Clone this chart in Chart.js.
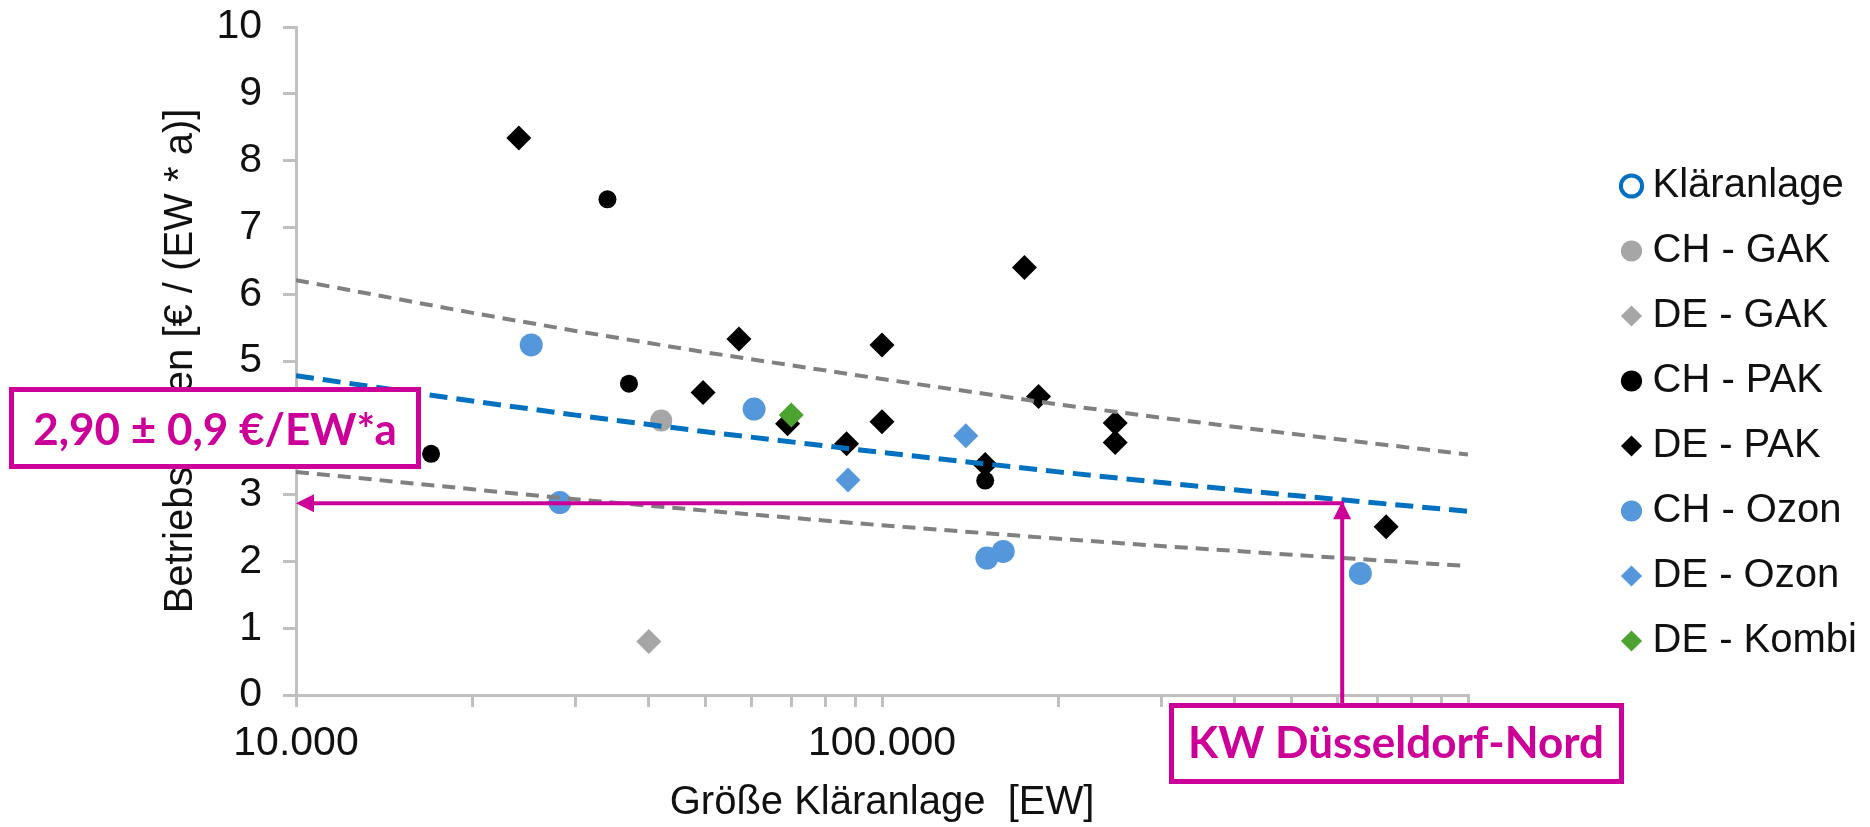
<!DOCTYPE html>
<html lang="de">
<head>
<meta charset="utf-8">
<title>Betriebskosten Kläranlagen</title>
<script src="https://cdn.jsdelivr.net/npm/chart.js@4.4.1/dist/chart.umd.min.js"></script>
<style>
  html, body { margin: 0; padding: 0; background: #fff; }
  #costChart { display: block; }
</style>
</head>
<body>
<canvas id="costChart" width="1870" height="827"></canvas>
<script>
'use strict';

// Gruppen (Legende)
const SERIES_NAMES = ['Kläranlage', 'CH - GAK', 'DE - GAK', 'CH - PAK', 'DE - PAK', 'CH - Ozon', 'DE - Ozon', 'DE - Kombi'];

// Größe [EW] und Betriebskosten [€/(EW*a)] je Gruppe
const KLAERANLAGE_EW = [];
const KLAERANLAGE_COST = [];
const CH_GAK_EW = [42000];
const CH_GAK_COST = [4.11];
const DE_GAK_EW = [40000];
const DE_GAK_COST = [0.80];
const CH_PAK_EW = [17000, 34000, 37000, 150000];
const CH_PAK_COST = [3.61, 7.42, 4.66, 3.21];
const DE_PAK_EW = [24000, 49500, 57000, 69000, 87000, 100000, 100000, 150000, 175000, 185000, 250000, 250000, 725000];
const DE_PAK_COST = [8.34, 4.53, 5.33, 4.06, 3.76, 5.24, 4.09, 3.45, 6.40, 4.47, 4.07, 3.78, 2.52];
const CH_OZON_EW = [25200, 28200, 60500, 151000, 161000, 655000];
const CH_OZON_COST = [5.24, 2.88, 4.28, 2.05, 2.15, 1.82];
const DE_OZON_EW = [87500, 139000];
const DE_OZON_COST = [3.22, 3.88];
const DE_KOMBI_EW = [70000];
const DE_KOMBI_COST = [4.19];

// Trendlinie und Streuband
const TREND_EW = [10000, 20000, 30000, 50000, 100000, 200000, 300000, 500000, 1000000];
const TREND_MID = [4.78, 4.40, 4.19, 3.94, 3.63, 3.34, 3.18, 2.99, 2.75];
const TREND_UPPER = [6.21, 5.72, 5.45, 5.13, 4.73, 4.35, 4.15, 3.91, 3.60];
const TREND_LOWER = [3.34, 3.08, 2.93, 2.76, 2.54, 2.34, 2.23, 2.10, 1.93];

// Achsen
const X_TICKS = [10000, 20000, 30000, 40000, 50000, 60000, 70000, 80000, 90000,
  100000, 200000, 300000, 400000, 500000, 600000, 700000, 800000, 900000, 1000000];
const X_TICK_VALUES = [10000, 100000, 1000000];
const X_TICK_LABELS = ['10.000', '100.000', '1.000.000'];
const X_TITLE = 'Größe Kläranlage  [EW]';
const Y_TITLE = 'Betriebskosten [€ / (EW * a)]';

// Markierung KW Düsseldorf-Nord
const KW_NAME = 'KW Düsseldorf-Nord';
const KW_EW = 610000;
const KW_COST = 2.90;
const KW_TEXT = '2,90 ± 0,9 €/EW*a';

// Layout
const PLOT_LEFT = 296;
const PLOT_TOP = 27;
const PLOT_RIGHT = 1468;
const PLOT_BOTTOM = 695;
const PAD_RIGHT = 3;
const MAGENTA = '#CC0099';
const AXIS_GRAY = '#C0C0C0';
const TEXT_COLOR = '#111';
const COST_BOX = {x: 11.5, y: 389.5, w: 407, h: 77, cx: 215, base: 445};
const KW_BOX = {x: 1171.5, y: 705.5, w: 450, h: 76, cx: 1396, base: 758};

Chart.defaults.font.family = '"Liberation Sans", Arial, sans-serif';

function points(xs, ys) {
  return xs.map(function(x, i) { return {x: x, y: ys[i]}; });
}

function markerSet(label, xs, ys, style, color, radius, order) {
  return {
    label: label,
    data: points(xs, ys),
    pointStyle: style,
    backgroundColor: color,
    borderColor: color,
    borderWidth: 0,
    pointRadius: radius,
    order: order
  };
}

function trendSet(label, ys, color, width, dash) {
  return {
    label: label,
    data: points(TREND_EW, ys),
    showLine: true,
    pointRadius: 0,
    borderColor: color,
    backgroundColor: color,
    borderWidth: width,
    borderDash: dash,
    fill: false,
    order: 0
  };
}

function arrowHead(ctx, x, y, dx, dy) {
  // Spitze bei (x, y), Richtung (dx, dy)
  const len = 18, half = 9;
  ctx.beginPath();
  ctx.moveTo(x, y);
  ctx.lineTo(x - dx * len - dy * half, y - dy * len - dx * half);
  ctx.lineTo(x - dx * len + dy * half, y - dy * len + dx * half);
  ctx.closePath();
  ctx.fill();
}

function textBox(ctx, box, text) {
  ctx.fillStyle = '#fff';
  ctx.fillRect(box.x, box.y, box.w, box.h);
  ctx.lineWidth = 5;
  ctx.strokeStyle = MAGENTA;
  ctx.strokeRect(box.x, box.y, box.w, box.h);
  ctx.fillStyle = MAGENTA;
  ctx.font = 'bold 44px Lato, "Open Sans", sans-serif';
  ctx.textAlign = 'center';
  ctx.textBaseline = 'alphabetic';
  ctx.fillText(text, box.cx, box.base);
}

const kwAnnotation = {
  id: 'kwAnnotation',
  afterDraw: function(chart) {
    const ctx = chart.ctx;
    const area = chart.chartArea;
    const px = chart.scales.x.getPixelForValue(KW_EW);
    const py = chart.scales.y.getPixelForValue(KW_COST);
    ctx.save();
    ctx.strokeStyle = MAGENTA;
    ctx.fillStyle = MAGENTA;
    ctx.lineWidth = 4;
    // senkrecht vom Kasten zur Trendlinie
    ctx.beginPath();
    ctx.moveTo(px, KW_BOX.y);
    ctx.lineTo(px, py + 17);
    ctx.stroke();
    arrowHead(ctx, px, py, 0, -1);
    // waagerecht zur y-Achse
    ctx.beginPath();
    ctx.moveTo(px + 2, py + 2);
    ctx.lineTo(area.left + 17, py + 2);
    ctx.stroke();
    arrowHead(ctx, area.left, py + 2, -1, 0);

    textBox(ctx, COST_BOX, KW_TEXT);
    textBox(ctx, KW_BOX, KW_NAME);
    ctx.restore();
  }
};

const context = document.querySelector('#costChart').getContext('2d');
new Chart(context, {
  type: 'scatter',
  data: {
    datasets: [
      {
        label: SERIES_NAMES[0],
        data: points(KLAERANLAGE_EW, KLAERANLAGE_COST),
        pointStyle: 'circle',
        backgroundColor: '#fff',
        borderColor: '#0070C0',
        borderWidth: 4,
        pointRadius: 10,
        order: 2
      },
      markerSet(SERIES_NAMES[1], CH_GAK_EW, CH_GAK_COST, 'circle', '#A6A6A6', 11, 2),
      markerSet(SERIES_NAMES[2], DE_GAK_EW, DE_GAK_COST, 'rectRot', '#A6A6A6', 12.5, 2),
      markerSet(SERIES_NAMES[3], CH_PAK_EW, CH_PAK_COST, 'circle', '#000', 9, 2),
      markerSet(SERIES_NAMES[4], DE_PAK_EW, DE_PAK_COST, 'rectRot', '#000', 12.5, 2),
      markerSet(SERIES_NAMES[5], CH_OZON_EW, CH_OZON_COST, 'circle', '#5597DB', 11.5, 2),
      markerSet(SERIES_NAMES[6], DE_OZON_EW, DE_OZON_COST, 'rectRot', '#5597DB', 12.5, 2),
      markerSet(SERIES_NAMES[7], DE_KOMBI_EW, DE_KOMBI_COST, 'rectRot', '#4DA32F', 12.5, 1),
      trendSet('Trend', TREND_MID, '#0070C0', 5, [18, 9]),
      trendSet('oben', TREND_UPPER, '#808080', 4, [13, 8]),
      trendSet('unten', TREND_LOWER, '#808080', 4, [13, 8])
    ]
  },
  options: {
    responsive: false,
    animation: false,
    events: [],
    layout: { padding: { top: 0, right: PAD_RIGHT, bottom: 0, left: 0 } },
    plugins: {
      tooltip: { enabled: false },
      legend: {
        position: 'right',
        align: 'center',
        labels: {
          usePointStyle: true,
          boxWidth: 2,
          boxHeight: 15,
          padding: 25,
          color: TEXT_COLOR,
          font: { size: 40 },
          filter: function(item) { return item.datasetIndex < SERIES_NAMES.length; },
          sort: function(a, b) { return a.datasetIndex - b.datasetIndex; }
        }
      }
    },
    scales: {
      x: {
        type: 'logarithmic',
        min: 10000,
        max: 1000000,
        afterBuildTicks: function(scale) {
          scale.ticks = X_TICKS.map(function(v) { return {value: v}; });
        },
        ticks: {
          autoSkip: false,
          maxRotation: 0,
          minRotation: 0,
          padding: 12,
          color: TEXT_COLOR,
          font: { size: 41 },
          callback: function(value) {
            const i = X_TICK_VALUES.indexOf(value);
            return i >= 0 ? X_TICK_LABELS[i] : '';
          }
        },
        grid: { drawOnChartArea: false, tickLength: 12, color: AXIS_GRAY, lineWidth: 3 },
        border: { color: AXIS_GRAY, width: 3 },
        title: { display: true, text: X_TITLE, color: TEXT_COLOR, font: { size: 40 }, padding: { top: 0, bottom: 0 } },
        afterFit: function(scale) {
          scale.height = scale.chart.height - PLOT_BOTTOM;
          scale.paddingLeft = 0;
          scale.paddingRight = 0;
        }
      },
      y: {
        min: 0,
        max: 10,
        ticks: { stepSize: 1, padding: 21, color: TEXT_COLOR, font: { size: 41 } },
        grid: { drawOnChartArea: false, tickLength: 13, color: AXIS_GRAY, lineWidth: 3 },
        border: { color: AXIS_GRAY, width: 3 },
        title: { display: true, text: Y_TITLE, color: TEXT_COLOR, font: { size: 40 }, padding: { top: 157, bottom: 0 } },
        afterFit: function(scale) {
          scale.width = PLOT_LEFT;
          scale.paddingTop = 0;
          scale.paddingBottom = 0;
        }
      },
      // leere Hilfsachsen, nur fuer die Lage der Zeichenflaeche
      x2: {
        type: 'linear',
        position: 'top',
        grid: { display: false },
        border: { display: false },
        ticks: { display: false },
        afterFit: function(scale) { scale.height = PLOT_TOP; }
      },
      y2: {
        type: 'linear',
        position: 'right',
        grid: { display: false },
        border: { display: false },
        ticks: { display: false },
        afterFit: function(scale) {
          const legendWidth = scale.chart.legend ? scale.chart.legend.width : 0;
          scale.width = Math.max(0, scale.chart.width - PAD_RIGHT - legendWidth - PLOT_RIGHT);
        }
      }
    }
  },
  plugins: [kwAnnotation]
});
</script>
</body>
</html>
